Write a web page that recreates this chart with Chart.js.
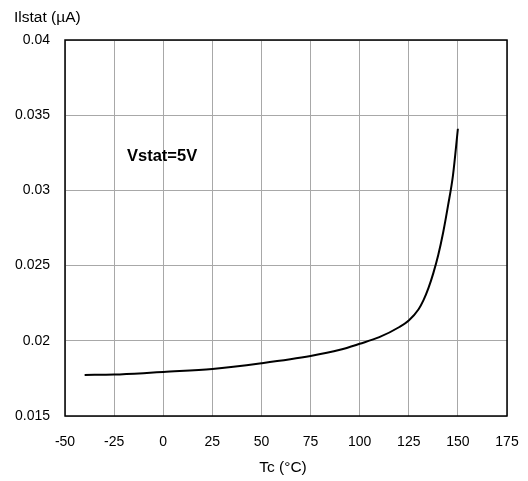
<!DOCTYPE html>
<html>
<head>
<meta charset="utf-8">
<script src="https://cdn.jsdelivr.net/npm/chart.js@4/dist/chart.umd.min.js"></script>
<style>
  html, body { margin: 0; padding: 0; background: #fff; }
</style>
</head>
<body>
<canvas id="chart" width="528" height="481"></canvas>
<script>
"use strict";

// temperature (°C) and static current (µA)
const tempC = [-40, -25, -10, 0, 25, 50, 75, 90, 100, 110, 120, 125, 130, 132.5, 135, 137.5, 140, 142.5, 145, 147.5, 150];
const currentUA = [0.01773, 0.01776, 0.01785, 0.01793, 0.01813, 0.01851, 0.01899, 0.0194, 0.0198, 0.02024, 0.0209, 0.02135, 0.0221, 0.0227, 0.0235, 0.0245, 0.0257, 0.0272, 0.029, 0.031, 0.0341];

const xTicks = [-50, -25, 0, 25, 50, 75, 100, 125, 150, 175];
const yTicks = [0.015, 0.02, 0.025, 0.03, 0.035, 0.04];

const yTitle = "Ilstat (µA)";
const xTitle = "Tc (°C)";
const noteText = "Vstat=5V";

const FONT = "'Liberation Sans', Arial, sans-serif";

const points = [];
for (let i = 0; i < tempC.length; i++) {
  points.push({ x: tempC[i], y: currentUA[i] });
}

const extras = {
  id: "extras",
  afterDraw(chart) {
    const ctx = chart.ctx;
    const area = chart.chartArea;
    ctx.save();
    ctx.strokeStyle = "#000";
    ctx.lineWidth = 1.5;
    ctx.strokeRect(area.left, area.top, area.right - area.left, area.bottom - area.top);

    ctx.fillStyle = "#000";
    ctx.font = "15.5px " + FONT;
    ctx.textBaseline = "middle";
    ctx.textAlign = "left";
    ctx.fillText(yTitle, 14, 18);

    ctx.textAlign = "center";
    ctx.fillText(xTitle, 283, 468);

    ctx.font = "bold 16.5px " + FONT;
    ctx.textAlign = "left";
    ctx.fillText(noteText, 127, 156);
    ctx.restore();
  }
};

new Chart(document.getElementById("chart"), {
  type: "scatter",
  data: {
    datasets: [
      {
        data: points,
        showLine: true,
        borderColor: "#000",
        borderWidth: 2,
        pointRadius: 0,
        cubicInterpolationMode: "monotone",
      },
    ],
  },
  options: {
    responsive: false,
    animation: false,
    layout: { padding: { top: 40, right: 21, left: 0, bottom: 0 } },
    plugins: {
      legend: { display: false },
      tooltip: { enabled: false },
    },
    scales: {
      x: {
        type: "linear",
        min: xTicks[0],
        max: xTicks[xTicks.length - 1],
        afterBuildTicks: (scale) => { scale.ticks = xTicks.map((v) => ({ value: v })); },
        afterFit: (scale) => {
          scale.height = 65;
          scale.paddingLeft = 0;
          scale.paddingRight = 0;
        },
        border: { display: false },
        grid: { color: "#a8a8a8", lineWidth: 1, drawTicks: false },
        ticks: {
          padding: 18,
          color: "#000",
          font: { family: FONT, size: 14 },
          maxRotation: 0,
        },
      },
      y: {
        min: yTicks[0],
        max: yTicks[yTicks.length - 1],
        afterBuildTicks: (scale) => { scale.ticks = yTicks.map((v) => ({ value: v })); },
        afterFit: (scale) => {
          scale.width = 65;
          scale.paddingTop = 0;
          scale.paddingBottom = 0;
        },
        border: { display: false },
        grid: { color: "#a8a8a8", lineWidth: 1, drawTicks: false },
        ticks: {
          padding: 15,
          color: "#000",
          font: { family: FONT, size: 14 },
          callback: (v) => String(Number(v.toFixed(3))),
        },
      },
    },
  },
  plugins: [extras],
});
</script>
</body>
</html>
